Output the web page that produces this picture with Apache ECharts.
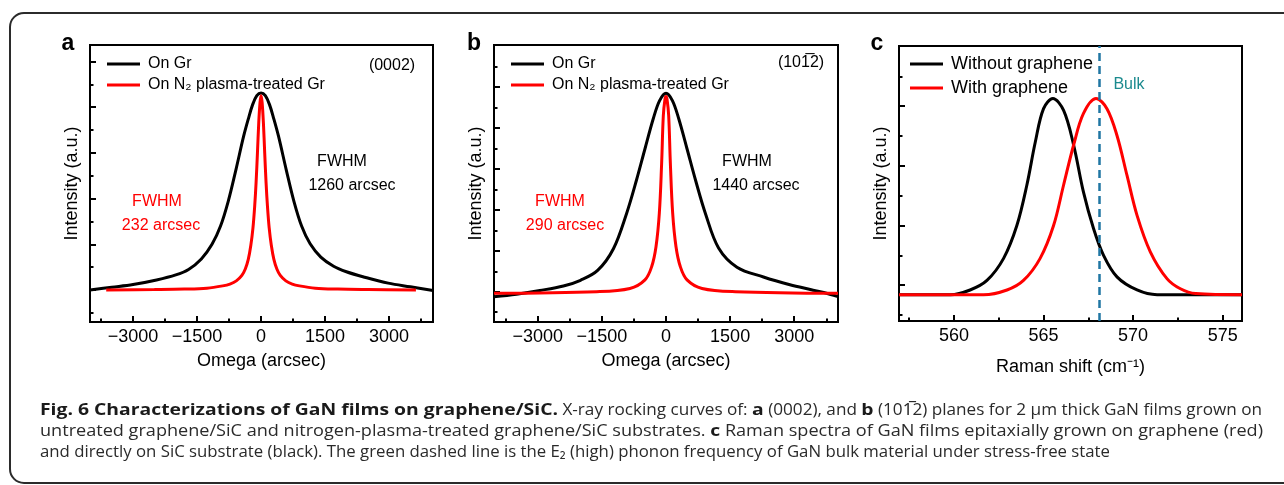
<!DOCTYPE html>
<html>
<head>
<meta charset="utf-8">
<title>Fig. 6 GaN on graphene/SiC</title>
<script src="https://cdn.jsdelivr.net/npm/echarts@6.0.0/dist/echarts.min.js"></script>
<style>
  html, body { margin: 0; padding: 0; background: #fff; }
  #main { width: 1284px; height: 485px; }
</style>
</head>
<body>
<div id="main"></div>
<script>
// ---- panel a: (0002) rocking curves, [omega (arcsec), intensity]
const aOnGr = [
  [-4010, 0.00], [-3500, 0.06], [-3000, 0.12], [-2450, 0.22], [-2000, 0.33],
  [-1700, 0.45], [-1400, 0.68], [-1150, 1.00], [-950, 1.40], [-770, 1.94],
  [-590, 2.63], [-410, 3.36], [-300, 3.74], [-200, 4.05], [-100, 4.25],
  [0, 4.31], [100, 4.25], [200, 4.05], [300, 3.74], [410, 3.36],
  [590, 2.63], [770, 1.94], [950, 1.40], [1150, 1.01], [1400, 0.72],
  [1700, 0.52], [2000, 0.40], [2430, 0.28], [2980, 0.15], [3500, 0.07], [4030, -0.01]
];
const aOnN2 = [
  [-3630, 0.00], [-2500, 0.01], [-1800, 0.02], [-1270, 0.04], [-900, 0.09],
  [-730, 0.13], [-580, 0.20], [-450, 0.32], [-370, 0.46], [-300, 0.67],
  [-240, 0.98], [-190, 1.36], [-150, 1.83], [-117, 2.35], [-85, 3.00],
  [-55, 3.65], [-25, 4.10], [0, 4.25], [25, 4.10], [55, 3.65],
  [85, 3.00], [117, 2.35], [150, 1.83], [190, 1.36], [240, 0.98],
  [300, 0.67], [370, 0.46], [450, 0.32], [580, 0.20], [730, 0.13],
  [900, 0.09], [1270, 0.04], [1800, 0.02], [2500, 0.01], [3630, 0.00]
];

// ---- panel b: (10-12) rocking curves
const bOnGr = [
  [-4024, -0.12], [-3500, -0.06], [-2950, 0.03], [-2400, 0.14], [-2000, 0.28],
  [-1600, 0.52], [-1230, 1.05], [-920, 1.92], [-690, 2.73], [-490, 3.50],
  [-300, 4.22], [-150, 4.67], [0, 4.85], [150, 4.67], [300, 4.22],
  [490, 3.50], [690, 2.73], [920, 1.92], [1230, 1.07], [1660, 0.60],
  [2280, 0.36], [2900, 0.17], [3400, 0.05], [3690, -0.02], [4024, -0.12]
];
const bOnN2 = [
  [-4024, -0.04], [-1625, 0.00], [-844, 0.08], [-492, 0.29], [-336, 0.61],
  [-234, 1.10], [-156, 1.92], [-102, 3.14], [-63, 4.30], [-25, 4.70],
  [0, 4.77], [25, 4.70], [63, 4.30], [102, 3.14], [156, 1.92],
  [234, 1.10], [336, 0.61], [492, 0.29], [844, 0.08], [1625, 0.00], [4024, -0.04]
];

// ---- panel c: Raman E2(high), [shift (cm-1), intensity]
const cWithout = [
  [556.93, -0.16], [559.8, -0.16], [560.9, -0.08], [561.84, 0.08], [562.77, 0.45],
  [563.51, 1.00], [564.07, 1.68], [564.54, 2.40], [565.0, 2.96], [565.52, 3.13],
  [566.12, 2.93], [566.68, 2.35], [567.23, 1.56], [567.79, 0.95], [568.35, 0.50],
  [569.1, 0.14], [570.22, -0.08], [571.34, -0.16], [576.08, -0.16]
];
const cWith = [
  [556.93, -0.16], [561.65, -0.16], [562.96, -0.08], [563.88, 0.08], [564.81, 0.45],
  [565.56, 1.00], [566.12, 1.68], [566.68, 2.35], [567.23, 2.88], [567.93, 3.13],
  [568.54, 2.96], [569.1, 2.51], [569.66, 1.84], [570.22, 1.17], [570.96, 0.56],
  [571.89, 0.11], [572.64, -0.06], [573.5, -0.14], [576.08, -0.16]
];
const bulkShift = 568.1;

// ---- ticks
const omegaMajor = [-3000, -1500, 0, 1500, 3000];
const omegaMinor = [-3750, -2250, -750, 750, 2250, 3750];
const ramanMajor = [560, 565, 570, 575];
const ramanMinor = [557.5, 562.5, 567.5, 572.5];
const aIntMajor = [0, 1, 2, 3, 4, 5];
const aIntMinor = [-0.5, 0.5, 1.5, 2.5, 3.5, 4.5];
const bIntMajor = [0, 1, 2, 3, 4, 5];
const bIntMinor = [-0.5, 0.5, 1.5, 2.5, 3.5, 4.5, 5.5];
const cIntMajor = [0, 1, 2, 3];
const cIntMinor = [-0.5, 0.5, 1.5, 2.5, 3.5];

const xrdNames = ['On Gr', 'On N\u2082 plasma-treated Gr'];
const ramanNames = ['Without graphene', 'With graphene'];

const FONT = "'Liberation Sans', Arial, Helvetica, sans-serif";
const CAP_FONT = "'Open Sans', 'Noto Sans', sans-serif";

const chart = echarts.init(document.getElementById('main'), null, { renderer: 'canvas' });

function minus(v) {
  return v < 0 ? '\u2212' + (-v) : String(v);
}

function axis(gridIndex, pos, min, max, ticks, len, extra) {
  return Object.assign({
    type: 'value',
    gridIndex: gridIndex,
    position: pos,
    min: min,
    max: max,
    axisLine: { show: false, onZero: false },
    splitLine: { show: false },
    axisTick: {
      show: true, inside: true, length: len, customValues: ticks,
      lineStyle: { color: '#000', width: 2 }
    },
    axisLabel: { show: false }
  }, extra || {});
}

function xMain(g, min, max, major, minor, name, gap, fmt) {
  return [
    axis(g, 'bottom', min, max, major, 6, {
      axisLabel: {
        show: true, customValues: major, formatter: fmt, margin: 6,
        fontSize: 18, color: '#000', fontFamily: FONT
      },
      name: name, nameLocation: 'middle', nameGap: gap,
      nameTextStyle: { fontSize: 18, color: '#000', fontFamily: FONT }
    }),
    axis(g, 'bottom', min, max, minor, 3.5)
  ];
}

function yMain(g, min, max, major, minor) {
  return [
    axis(g, 'left', min, max, major, 6, {
      name: 'Intensity (a.u.)', nameLocation: 'middle', nameGap: 9, nameRotate: 90,
      nameTextStyle: { fontSize: 18, color: '#000', fontFamily: FONT }
    }),
    axis(g, 'left', min, max, minor, 3.5)
  ];
}

function curve(name, data, color, idx, extra) {
  return Object.assign({
    name: name, type: 'line', data: data,
    xAxisIndex: idx, yAxisIndex: idx,
    showSymbol: false, smooth: 0.35,
    lineStyle: { color: color, width: 3 },
    itemStyle: { color: color },
    silent: true
  }, extra || {});
}

function legend(left, top, names, size, gap) {
  return {
    left: left, top: top, padding: 0, orient: 'vertical', data: names,
    icon: 'rect', itemWidth: 33, itemHeight: 3, itemGap: gap,
    selectedMode: false,
    textStyle: { fontSize: size, lineHeight: size, color: '#000', fontFamily: FONT, padding: [0, 0, 0, 3] }
  };
}

function txt(text, x, y, size, color, extra) {
  return {
    type: 'text', x: x, y: y, silent: true,
    style: Object.assign({
      text: text, fontSize: size, fontFamily: FONT, fill: color,
      align: 'center', verticalAlign: 'middle'
    }, extra || {})
  };
}

// caption: bold heading and regular text get their own horizontal squeeze
const captionLines = [
  { w: 1222, y: 410, parts: [
    ['Fig. 6 Characterizations of GaN films on graphene/SiC.', 1],
    [' X-ray rocking curves of: ', 0], ['a', 1], [' (0002), and ', 0], ['b', 1],
    [' (101\u03052) planes for 2\u00a0\u03bcm thick GaN films grown on', 0]
  ] },
  { w: 1223, y: 431, parts: [
    ['untreated graphene/SiC and nitrogen-plasma-treated graphene/SiC substrates. ', 0],
    ['c', 1], [' Raman spectra of GaN films epitaxially grown on graphene (red)', 0]
  ] },
  { w: 1070, y: 452, parts: [
    ['and directly on SiC substrate (black). The green dashed line is the E\u2082 (high) phonon frequency of GaN bulk material under stress-free state', 0]
  ] }
];
const headingWidth = 518;
const mctx = document.createElement('canvas').getContext('2d');
function measure(str, bold) {
  mctx.font = (bold ? 'bold ' : '') + '16px ' + CAP_FONT;
  return mctx.measureText(str).width;
}
const boldScale = headingWidth / measure(captionLines[0].parts[0][0], 1);

function captionElements(line) {
  let bw = 0, rw = 0;
  line.parts.forEach(function (p) {
    if (p[1]) bw += measure(p[0], 1); else rw += measure(p[0], 0);
  });
  const regScale = (line.w - bw * boldScale) / rw;
  let x = 40;
  return line.parts.map(function (p) {
    const s = p[1] ? boldScale : regScale;
    const el = {
      type: 'text', x: x, y: line.y, scaleX: s, silent: true,
      style: {
        text: p[0], fontSize: 16, fontFamily: CAP_FONT,
        fontWeight: p[1] ? 'bold' : 'normal', fill: p[1] ? '#1a1a1a' : '#2a2a2a',
        align: 'left', verticalAlign: 'middle'
      }
    };
    x += measure(p[0], p[1]) * s;
    return el;
  });
}

let graphics = [
  {
    type: 'rect', silent: true,
    shape: { x: 10, y: 13, width: 1290, height: 470, r: 14 },
    style: { fill: 'none', stroke: '#2b2b2b', lineWidth: 2 }
  },
  txt('a', 68, 44, 23, '#000', { fontWeight: 'bold' }),
  txt('b', 474, 44, 23, '#000', { fontWeight: 'bold' }),
  txt('c', 877, 44, 23, '#000', { fontWeight: 'bold' }),
  txt('(0002)', 392, 66, 16, '#000'),
  txt('(101\u03052)', 801, 63, 16, '#000'),
  txt('FWHM', 342, 162, 16, '#000'),
  txt('1260 arcsec', 352, 186, 16, '#000'),
  txt('FWHM', 157, 202, 16, '#ff0000'),
  txt('232 arcsec', 161, 226, 16, '#ff0000'),
  txt('FWHM', 747, 162, 16, '#000'),
  txt('1440 arcsec', 756, 186, 16, '#000'),
  txt('FWHM', 560, 202, 16, '#ff0000'),
  txt('290 arcsec', 565, 226, 16, '#ff0000'),
  txt('Bulk', 1129, 85, 16, '#1b8a8e')
];
captionLines.forEach(function (line) {
  graphics = graphics.concat(captionElements(line));
});

const option = {
  animation: false,
  backgroundColor: '#fff',
  grid: [
    { left: 90, top: 45, width: 343, height: 277, show: true, borderColor: '#000', borderWidth: 2 },
    { left: 494, top: 45, width: 344, height: 277, show: true, borderColor: '#000', borderWidth: 2 },
    { left: 899, top: 46, width: 343, height: 275, show: true, borderColor: '#000', borderWidth: 2 }
  ],
  xAxis: [].concat(
    xMain(0, -4010, 4030, omegaMajor, omegaMinor, 'Omega (arcsec)', 30, minus),
    xMain(1, -4024, 4024, omegaMajor, omegaMinor, 'Omega (arcsec)', 30, minus),
    xMain(2, 556.93, 576.08, ramanMajor, ramanMinor, 'Raman shift (cm\u207b\u00b9)', 37, String)
  ),
  yAxis: [].concat(
    yMain(0, -0.70, 5.36, aIntMajor, aIntMinor),
    yMain(1, -0.74, 6.03, bIntMajor, bIntMinor),
    yMain(2, -0.60, 4.01, cIntMajor, cIntMinor)
  ),
  legend: [
    legend(107, 56, xrdNames, 16, 5),
    legend(511, 56, xrdNames, 16, 5),
    legend(910, 55, ramanNames, 18, 6)
  ],
  series: [
    curve(xrdNames[0], aOnGr, '#000000', 0),
    curve(xrdNames[1], aOnN2, '#ff0000', 0),
    curve(xrdNames[0], bOnGr, '#000000', 2),
    curve(xrdNames[1], bOnN2, '#ff0000', 2),
    curve(ramanNames[0], cWithout, '#000000', 4),
    curve(ramanNames[1], cWith, '#ff0000', 4, {
      markLine: {
        silent: true, symbol: ['none', 'none'], label: { show: false },
        lineStyle: { color: '#1f76a3', width: 2.5, type: [8, 5] },
        data: [{ xAxis: bulkShift }]
      }
    })
  ],
  graphic: graphics
};

chart.setOption(option);
</script>
</body>
</html>
